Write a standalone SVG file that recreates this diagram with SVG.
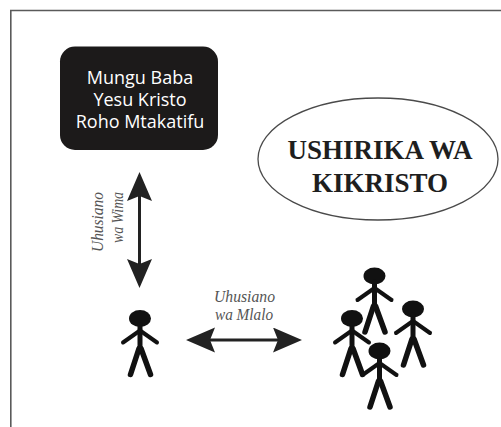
<svg xmlns="http://www.w3.org/2000/svg" xmlns:xlink="http://www.w3.org/1999/xlink" width="501" height="427" viewBox="0 0 501 427">
<style>
.frame{fill:none;stroke:#5a5a5a;stroke-width:1.6}
.box{fill:#1c1a1a}
.boxtxt{font-family:"Open Sans","Noto Sans",sans-serif;font-size:18px;fill:#ffffff;text-anchor:middle}
.oval{fill:#ffffff;stroke:#4a4a4a;stroke-width:1.3}
.ovaltxt{font-family:"Liberation Serif","Times New Roman",serif;font-weight:bold;font-size:27px;fill:#1e1e1e;text-anchor:middle}
.lbl{font-family:"Liberation Serif","Times New Roman",serif;font-style:italic;font-size:16.5px;fill:#555555}
.shaft{stroke:#222222;stroke-width:3;fill:none}
.fig{stroke:#111111;stroke-linecap:round;fill:none}
</style>
<defs>
<marker id="ah" markerUnits="userSpaceOnUse" markerWidth="30" markerHeight="26" refX="5" refY="12.5" orient="auto-start-reverse" viewBox="0 0 30 26">
<path d="M0,0 L29,12.5 L0,25 L5,12.5 Z" fill="#222222"/>
</marker>
<g id="person">
<ellipse cx="0" cy="0" rx="11" ry="8.5" fill="#111111"/>
<line class="fig" x1="0" y1="6" x2="0" y2="31" stroke-width="5"/>
<line class="fig" x1="0" y1="12" x2="-17" y2="24" stroke-width="4"/>
<line class="fig" x1="0" y1="12" x2="17" y2="24" stroke-width="4"/>
<line class="fig" x1="-1" y1="30" x2="-9.5" y2="56" stroke-width="5.5"/>
<line class="fig" x1="1" y1="30" x2="10.5" y2="56" stroke-width="5.5"/>
</g>
</defs>
<rect width="501" height="427" fill="#ffffff"/>
<path class="frame" d="M501,10.5 H10.8 V427"/>

<g id="trinity">
<rect class="box" x="60" y="46.5" width="158" height="103.5" rx="15" ry="15"/>
<text class="boxtxt" x="140" y="84">Mungu Baba</text>
<text class="boxtxt" x="140" y="106">Yesu Kristo</text>
<text class="boxtxt" x="140" y="128">Roho Mtakatifu</text>
</g>

<g id="fellowship">
<ellipse class="oval" cx="378" cy="159" rx="120" ry="61"/>
<text class="ovaltxt" x="380" y="159">USHIRIKA WA</text>
<text class="ovaltxt" x="380" y="192">KIKRISTO</text>
</g>

<g id="individual">
<use xlink:href="#person" href="#person" x="140" y="318.5"/>
</g>

<g id="community">
<use xlink:href="#person" href="#person" x="374.5" y="276"/>
<use xlink:href="#person" href="#person" x="413" y="309"/>
<use xlink:href="#person" href="#person" x="352" y="318.5"/>
<use xlink:href="#person" href="#person" x="379.5" y="351"/>
</g>

<g id="connectors">
<line class="shaft" x1="139.5" y1="196" x2="139.5" y2="264" marker-start="url(#ah)" marker-end="url(#ah)"/>
<text class="lbl" transform="translate(102.5,192) rotate(-90)" text-anchor="end" textLength="60" lengthAdjust="spacingAndGlyphs">Uhusiano</text>
<text class="lbl" transform="translate(122.5,192) rotate(-90)" text-anchor="end" textLength="51" lengthAdjust="spacingAndGlyphs">wa Wima</text>
<line class="shaft" x1="210" y1="340" x2="278" y2="340" marker-start="url(#ah)" marker-end="url(#ah)"/>
<text class="lbl" x="244.5" y="301.5" text-anchor="middle" textLength="61" lengthAdjust="spacingAndGlyphs">Uhusiano</text>
<text class="lbl" x="244" y="320" text-anchor="middle" textLength="58" lengthAdjust="spacingAndGlyphs">wa Mlalo</text>
</g>
</svg>
